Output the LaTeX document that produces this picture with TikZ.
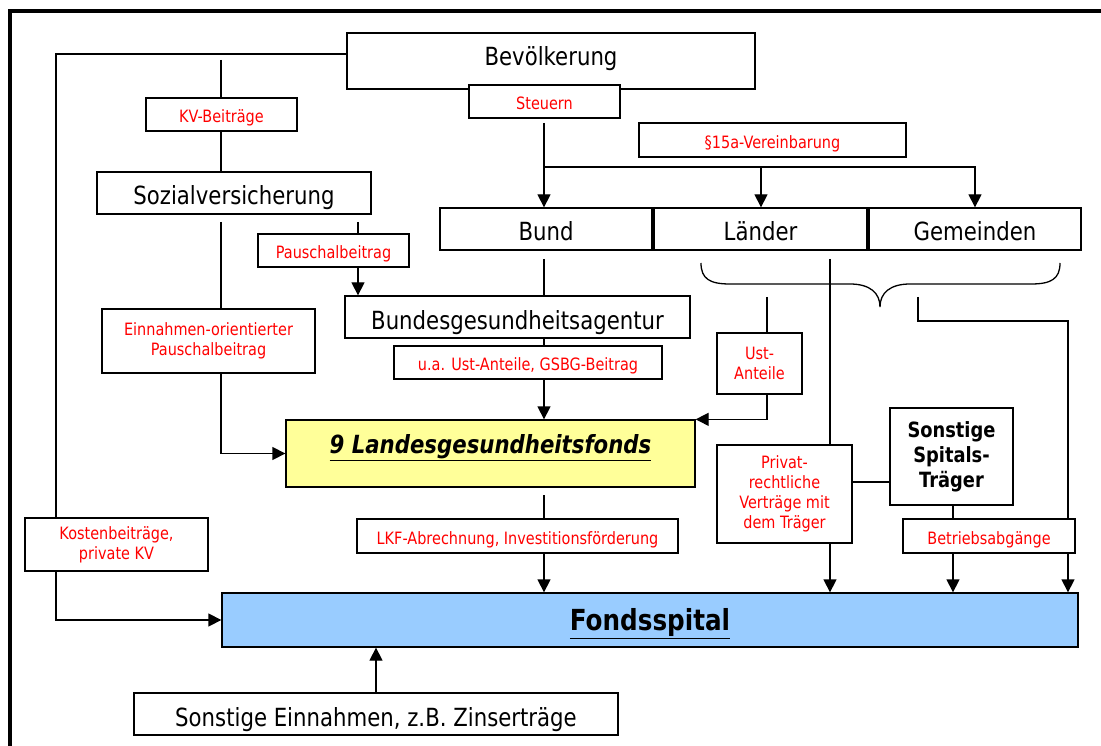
\documentclass[tikz,border=0pt]{standalone}
\usepackage{fontspec}
\setmainfont{DejaVu Sans}[FakeStretch=0.85]
\usepackage{tikz}
\usetikzlibrary{positioning,arrows.meta,calc}
\definecolor{fundyellow}{RGB}{255,255,153}
\definecolor{hospblue}{RGB}{153,204,255}
\newcommand*{\bigtext}{\fontsize{25}{29}\selectfont}
\newcommand*{\tagtext}{\fontsize{17}{20}\selectfont}
\tikzset{%
  plainbox/.style={draw, rectangle, line width=1.3pt, fill=white, inner sep=0pt, font=\bigtext},% frame only
  box/.style={plainbox, text height=24pt, text depth=0pt},% institution box, one line
  flowtag/.style={plainbox, text=red, font=\tagtext, align=center},% red payment label
  tagline/.style={flowtag, text height=16.4pt, text depth=0pt},% red label, one line
  flow/.style={line width=1.3pt, -{Triangle[length=13pt, width=13pt]}},% money flow
  link/.style={line width=1.3pt}% plain line
}

\begin{document}
\begin{tikzpicture}[x=1pt, y=-1pt]
\useasboundingbox (0,0) rectangle (1101,746);
\draw[line width=4pt] (10,760) -- (10,11) -- (1115,11);

\node[box, minimum width=408, minimum height=56, text height=18pt, text depth=9pt] (bev) at (551,61) {Bevölkerung};
\node[box, minimum width=274, minimum height=42] (sv) at (234,193) {Sozialversicherung};
\node[box, minimum width=212, minimum height=42] (bund) at (546,229) {Bund};
\node[box, minimum width=213, minimum height=42] (laender) at (760.5,229) {Länder};
\node[box, minimum width=212, minimum height=42] (gem) at (975,229) {Gemeinden};
\node[box, minimum width=345, minimum height=42] (bga) at (517.5,317) {Bundesgesundheitsagentur};
\node[box, fill=fundyellow, minimum width=409, minimum height=67, text height=20pt, text depth=20pt] (lgf) at (490.5,453.5) {\textbf{\textit{\underline{9 Landesgesundheitsfonds}}}};
\node[plainbox, font=\fontsize{21}{25}\selectfont\bfseries, align=center, minimum width=123, minimum height=97] (sst) at (951.5,456.5) {Sonstige\\Spitals-\\Träger};
\node[box, fill=hospblue, font=\fontsize{29}{33}\selectfont\bfseries, minimum width=856, minimum height=54, text height=21pt] (fonds) at (650,620) {\underline{Fondsspital}};
\node[box, minimum width=484, minimum height=42] (seinn) at (376,714) {Sonstige Einnahmen, z.B. Zinserträge};

\coordinate (kvtop) at (221,60);
\coordinate (stout) at (544,123);
\coordinate (split) at (544,167);
\coordinate (lsplit) at (761,167);
\coordinate (svout) at (221,222);
\coordinate (pout) at (358,222);
\coordinate (bout) at (544,259);
\coordinate (fout) at (544,495);
\coordinate (ustin) at (767,297);
\coordinate (lout) at (830,259);
\coordinate (gout) at (918,297);
\coordinate (gturn) at (1068,321);
\coordinate (sout) at (953,505);
\coordinate (lk) at (56,620);

\draw[flow] ([yshift=7]bev.west) -| (lk) -- (fonds.west);
\draw[link] (kvtop) -- (kvtop |- sv.north);
\draw[flow] (stout) -- (stout |- bund.north);
\draw[flow] (split) -| (gem.north);
\draw[flow] (lsplit) -- (lsplit |- laender.north);
\draw[flow] (svout) |- (lgf.west);
\draw[flow] (pout) -- (pout |- bga.north);
\draw[link] (bout) -- (bout |- bga.north);
\draw[flow] (bout |- bga.south) -- (bout |- lgf.north);
\draw[flow] (ustin) |- (lgf.north east);
\draw[flow] (lout) -- (lout |- fonds.north);
\draw[flow] (gout) |- (gturn) -- (gturn |- fonds.north);
\draw[flow] (fout) -- (fout |- fonds.north);
\draw[flow] (sout) -- (sout |- fonds.north);
\draw[flow] (seinn.north) -- (seinn.north |- fonds.south);

% brace under Laender and Gemeinden
\draw[link] (701,263) .. controls (701,279) and (710,284) .. (730,284) -- (850,284)
  .. controls (870,284) and (880,293) .. (880,307) .. controls (880,293) and (890,284) .. (910,284)
  -- (1031,284) .. controls (1051,284) and (1060,279) .. (1060,263);

% payment labels
\node[tagline, minimum width=151, minimum height=33] (steuer) at (544.5,101.5) {Steuern};
\node[tagline, minimum width=151, minimum height=33] (kvb) at (221.5,114.5) {KV-Beiträge};
\node[tagline, minimum width=267, minimum height=34] (vereinb) at (772.5,140) {§15a-Vereinbarung};
\node[tagline, minimum width=151, minimum height=33] (pausch) at (333.5,250.5) {Pauschalbeitrag};
\node[flowtag, minimum width=213, minimum height=64] (einn) at (208.5,341) {Einnahmen-orientierter\\Pauschalbeitrag};
\node[tagline, minimum width=268, minimum height=33] (ua) at (528,362.5) {u.a. Ust-Anteile, GSBG-Beitrag};
\node[flowtag, minimum width=85, minimum height=61] (ust) at (759.5,363.5) {Ust-\\Anteile};
\node[flowtag, minimum width=135, minimum height=98] (privat) at (784.5,494) {Privat-\\rechtliche\\Verträge mit\\dem Träger};
\node[tagline, minimum width=172, minimum height=34] (betr) at (989,536) {Betriebsabgänge};
\node[tagline, minimum width=321, minimum height=34] (lkf) at (517.5,536) {LKF-Abrechnung, Investitionsförderung};
\node[flowtag, minimum width=183, minimum height=53] (kost) at (116.5,544.5) {Kostenbeiträge,\\private KV};

\draw[link] ([yshift=12]privat.east) -- ([yshift=12]privat.east -| sst.west);

\end{tikzpicture}
\end{document}
